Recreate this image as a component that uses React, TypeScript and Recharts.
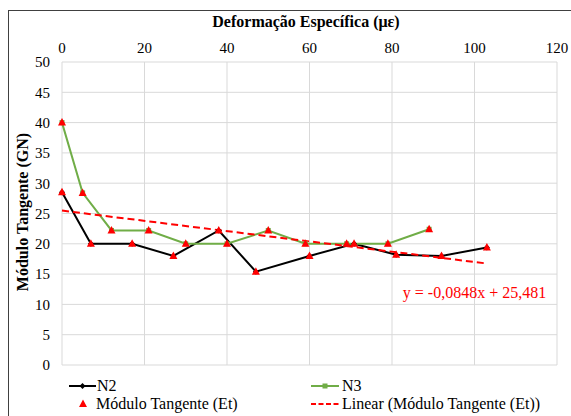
import {
  ComposedChart,
  Line,
  Scatter,
  XAxis,
  YAxis,
  CartesianGrid,
  ReferenceDot
} from "recharts";

// N2 (black) and N3 (green) readings
const n2X = [0, 7, 17, 27, 38, 47, 60, 70.8, 81, 92, 103];
const n2Y = [28.5, 20, 20, 18, 22.2, 15.4, 18, 20, 18.2, 18, 19.4];
const n3X = [0, 5, 12, 21, 30, 40, 50, 59, 69, 79, 89];
const n3Y = [40, 28.4, 22.2, 22.2, 20, 20, 22.2, 20, 20, 20, 22.4];

const xTicks = [0, 20, 40, 60, 80, 100, 120];
const yTicks = [0, 5, 10, 15, 20, 25, 30, 35, 40, 45, 50];

const trendSlope = -0.0848;
const trendIntercept = 25.481;
const trendLabel = "y = -0,0848x + 25,481";

const n2 = n2X.map((x, i) => ({ x, y: n2Y[i] }));
const n3 = n3X.map((x, i) => ({ x, y: n3Y[i] }));
const et = [...n2, ...n3];
const etX = et.map((p) => p.x);
const trend = [Math.min(...etX), Math.max(...etX)].map((x) => ({
  x,
  y: trendSlope * x + trendIntercept
}));

const FONT = "'Liberation Serif', 'DejaVu Serif', serif";
const GREEN = "#70ad47";
const RED = "#ff0000";

const Diamond = (p: any) => (
  <polygon
    points={`${p.cx},${p.cy - 3} ${p.cx + 3},${p.cy} ${p.cx},${p.cy + 3} ${p.cx - 3},${p.cy}`}
    fill="#000"
  />
);

const Square = (p: any) => (
  <rect x={p.cx - 2.5} y={p.cy - 2.5} width={5} height={5} fill={GREEN} />
);

const Triangle = (p: any) => (
  <polygon
    points={`${p.cx},${p.cy - 4.5} ${p.cx + 4},${p.cy + 3} ${p.cx - 4},${p.cy + 3}`}
    fill={RED}
  />
);

const legendText: React.CSSProperties = {
  position: "absolute",
  fontFamily: FONT,
  fontSize: 16,
  lineHeight: "18px",
  color: "#000",
  whiteSpace: "nowrap"
};

export default function App() {
  return (
    <div
      style={{
        position: "absolute",
        left: 0,
        top: 0,
        width: 571,
        height: 416,
        background: "#fff",
        overflow: "hidden",
        fontFamily: FONT
      }}
    >
      <div
        style={{
          position: "absolute",
          left: 8,
          top: 10,
          width: 600,
          height: 450,
          borderLeft: "1px solid #404040",
          borderTop: "1px solid #404040"
        }}
      />
      <div
        style={{
          position: "absolute",
          left: 306,
          top: 13,
          transform: "translateX(-50%)",
          fontFamily: FONT,
          fontWeight: "bold",
          fontSize: 16,
          lineHeight: "18px",
          whiteSpace: "nowrap"
        }}
      >
        Deformação Específica (με)
      </div>
      <div
        style={{
          position: "absolute",
          left: 23,
          top: 212,
          transform: "translate(-50%, -50%) rotate(-90deg)",
          fontFamily: FONT,
          fontWeight: "bold",
          fontSize: 16,
          lineHeight: "18px",
          whiteSpace: "nowrap"
        }}
      >
        Módulo Tangente (GN)
      </div>

      <div style={{ position: "absolute", left: 0, top: 0 }}>
        <ComposedChart
          width={571}
          height={416}
          margin={{ top: 32, right: 14, left: 22, bottom: 51 }}
        >
          <CartesianGrid stroke="#d9d9d9" strokeWidth={1} />
          <XAxis
            dataKey="x"
            type="number"
            orientation="top"
            domain={[0, 120]}
            ticks={xTicks}
            height={30}
            axisLine={false}
            tickLine={false}
            tickSize={0}
            tickMargin={9}
            tick={{ fill: "#000", fontSize: 15, fontFamily: FONT }}
            allowDuplicatedCategory={false}
          />
          <YAxis
            type="number"
            domain={[0, 50]}
            ticks={yTicks}
            width={40}
            axisLine={false}
            tickLine={false}
            tickSize={0}
            tickMargin={12}
            tick={{ fill: "#000", fontSize: 15, fontFamily: FONT }}
          />
          <Line
            data={n2}
            dataKey="y"
            name="N2"
            stroke="#000"
            strokeWidth={2}
            dot={<Diamond />}
            isAnimationActive={false}
          />
          <Line
            data={n3}
            dataKey="y"
            name="N3"
            stroke={GREEN}
            strokeWidth={2}
            dot={<Square />}
            isAnimationActive={false}
          />
          <Scatter
            data={et}
            dataKey="y"
            name="Módulo Tangente (Et)"
            shape={<Triangle />}
            isAnimationActive={false}
          />
          <Line
            data={trend}
            dataKey="y"
            name="Linear (Módulo Tangente (Et))"
            stroke={RED}
            strokeWidth={2}
            strokeDasharray="7 4"
            dot={false}
            isAnimationActive={false}
          />
          <ReferenceDot
            x={100}
            y={12}
            r={0}
            fill="none"
            stroke="none"
            ifOverflow="visible"
            label={{
              value: trendLabel,
              position: "center",
              fill: RED,
              fontSize: 16,
              fontFamily: FONT
            }}
          />
        </ComposedChart>
      </div>

      {/* legend */}
      <svg
        width={571}
        height={416}
        style={{ position: "absolute", left: 0, top: 0, pointerEvents: "none" }}
      >
        <line x1={69} y1={386} x2={96} y2={386} stroke="#000" strokeWidth={2} />
        <polygon points="82.5,383 85.5,386 82.5,389 79.5,386" fill="#000" />
        <line x1={311} y1={386} x2={339} y2={386} stroke={GREEN} strokeWidth={2} />
        <rect x={322.5} y={383.5} width={5} height={5} fill={GREEN} />
        <polygon points="83,399.5 87,407 79,407" fill={RED} />
        <line
          x1={311}
          y1={404}
          x2={339}
          y2={404}
          stroke={RED}
          strokeWidth={2}
          strokeDasharray="5 2.5"
        />
      </svg>
      <div style={{ ...legendText, left: 97, top: 377 }}>N2</div>
      <div style={{ ...legendText, left: 342, top: 377 }}>N3</div>
      <div style={{ ...legendText, left: 96, top: 395 }}>Módulo Tangente (Et)</div>
      <div style={{ ...legendText, left: 342, top: 395 }}>
        Linear (Módulo Tangente (Et))
      </div>
    </div>
  );
}
